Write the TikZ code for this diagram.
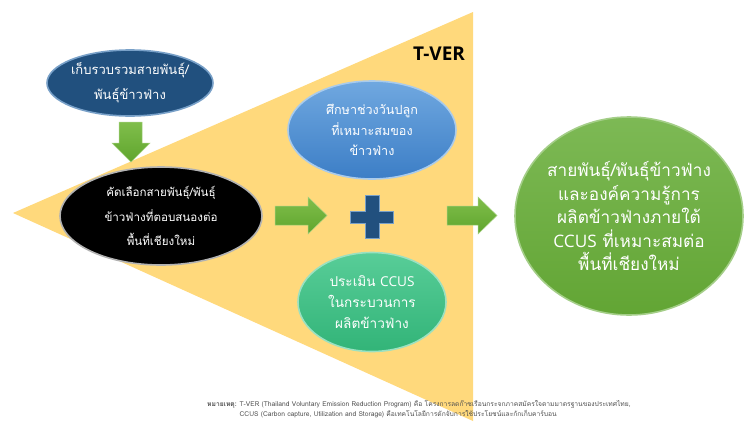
\documentclass[tikz,border=0pt]{standalone}
\usepackage{fontspec}
\newfontfamily\thai[Script=Thai]{Loma}
\newfontfamily\lat{Open Sans}
\usetikzlibrary{shapes.geometric}
\definecolor{tri}{RGB}{255,217,124}
\definecolor{dblue}{RGB}{33,80,126}
\definecolor{dbluerim}{RGB}{120,160,200}
\definecolor{lbluetop}{RGB}{112,168,224}
\definecolor{lbluebot}{RGB}{60,126,198}
\definecolor{tealtop}{RGB}{88,205,152}
\definecolor{tealbot}{RGB}{50,180,120}
\definecolor{gtop}{RGB}{125,185,85}
\definecolor{gbot}{RGB}{98,165,52}
\definecolor{atop}{RGB}{128,190,75}
\definecolor{abot}{RGB}{95,165,45}
\definecolor{notegray}{RGB}{80,80,80}
\tikzset{
  ell/.style={ellipse, inner sep=0pt, line width=1.6pt},
  etxt/.style={align=center, text=white, inner sep=0pt},
  blockarrow/.style={top color=atop, bottom color=abot, draw=atop!70!white, line width=0.5pt},
}
\begin{document}
\begin{tikzpicture}[x=1pt,y=-1pt]
\useasboundingbox (0,0) rectangle (744,421);
\fill[white] (0,0) rectangle (744,421);
% big yellow triangle
\fill[tri] (13,213) -- (473,12) -- (473,421) -- cycle;
\node[font={\lat\bfseries\fontsize{19}{19}\selectfont}, inner sep=0pt] (tver) at (439,54) {T-VER};

% ellipses
\node[ell, minimum width=166pt, minimum height=66pt, fill=dblue, draw=dbluerim] (collect) at (130,83) {};
\node[etxt, font={\thai\fontsize{13}{25}\selectfont}] (collect-t) at (collect.center) {เก็บรวบรวมสายพันธุ์/\\พันธุ์ข้าวฟ่าง};

\node[ell, minimum width=202pt, minimum height=98pt, fill=black, draw=gray!60] (select) at (161,216) {};
\node[etxt, font={\thai\fontsize{11.6}{24.5}\selectfont}] (select-t) at (select.center) {คัดเลือกสายพันธุ์/พันธุ์\\ข้าวฟ่างที่ตอบสนองต่อ\\พื้นที่เชียงใหม่};

\node[ell, minimum width=168pt, minimum height=98pt, top color=lbluetop, bottom color=lbluebot, draw=lbluetop!60!white] (study) at (372,130) {};
\node[etxt, font={\thai\fontsize{12.6}{20.5}\selectfont}] (study-t) at (study.center) {ศึกษาช่วงวันปลูก\\ที่เหมาะสมของ\\ข้าวฟ่าง};

\node[ell, minimum width=148pt, minimum height=99pt, top color=tealtop, bottom color=tealbot, draw=tealtop!60!white] (assess) at (372,302) {};
\node[etxt, font={\thai\fontsize{13.6}{21}\selectfont}] (assess-t) at (assess.center) {ประเมิน {\lat CCUS}\\ในกระบวนการ\\ผลิตข้าวฟ่าง};

\node[ell, minimum width=228pt, minimum height=198pt, top color=gtop, bottom color=gbot, draw=gtop!70!white] (result) at (629,216) {};
\node[etxt, font={\thai\fontsize{17.2}{23.5}\selectfont}] (result-t) at (result.center) {สายพันธุ์/พันธุ์ข้าวฟ่าง\\และองค์ความรู้การ\\ผลิตข้าวฟ่างภายใต้\\{\lat CCUS} ที่เหมาะสมต่อ\\พื้นที่เชียงใหม่};

% block arrows
\draw[blockarrow] (119,122) -- (142,122) -- (142,143) -- (150,143) -- (131,162) -- (112,143) -- (119,143) -- cycle;
\draw[blockarrow] (275,206) -- (308,206) -- (308,197) -- (327,215.5) -- (308,234) -- (308,225) -- (275,225) -- cycle;
\draw[blockarrow] (447,206) -- (478,206) -- (478,197) -- (497,215.5) -- (478,234) -- (478,225) -- (447,225) -- cycle;

% plus sign
\draw[fill=dblue, draw=dbluerim, line width=0.8pt]
  (365,195) -- (379,195) -- (379,211) -- (393,211) -- (393,223) -- (379,223) -- (379,238)
  -- (365,238) -- (365,223) -- (350,223) -- (350,211) -- (365,211) -- cycle;

% note
\node[anchor=north west, inner sep=0pt, text=notegray, font={\thai\fontsize{6.7}{10.5}\selectfont}] (note) at (207,399)
 {\begin{tabular}{@{}l@{\hspace{3pt}}l@{}}
  \textbf{หมายเหตุ:} & T-VER (Thailand Voluntary Emission Reduction Program) คือ โครงการลดก๊าซเรือนกระจกภาคสมัครใจตามมาตรฐานของประเทศไทย,\\[-1pt]
  & CCUS (Carbon capture, Utilization and Storage) คือเทคโนโลยีการดักจับการใช้ประโยชน์และกักเก็บคาร์บอน
 \end{tabular}};
\end{tikzpicture}
\end{document}
